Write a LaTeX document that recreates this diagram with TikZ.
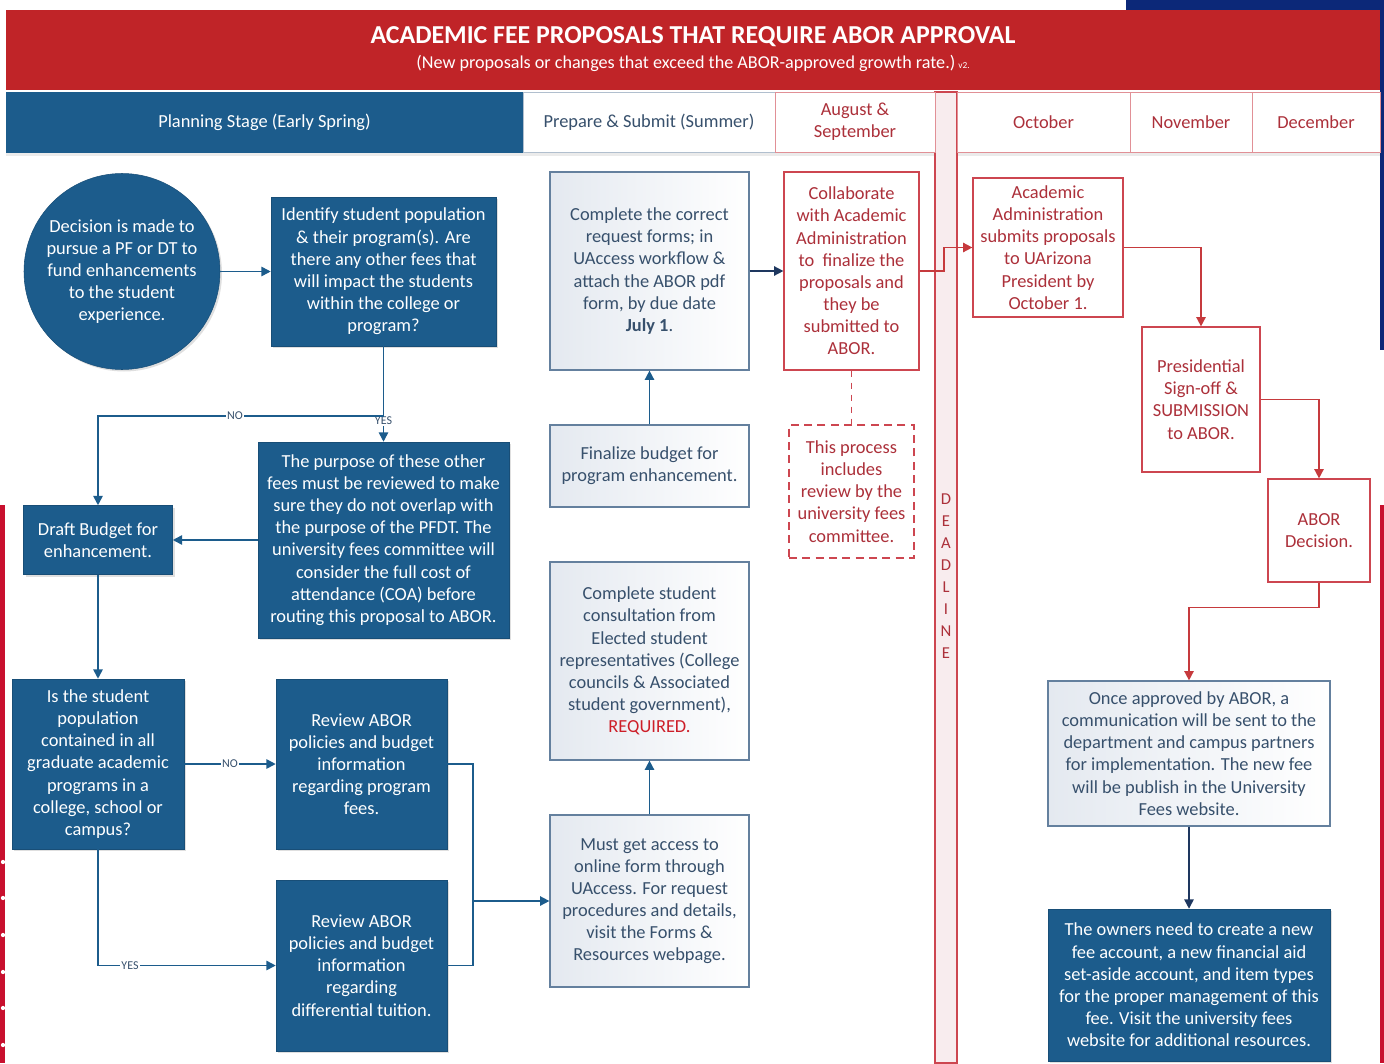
\documentclass[tikz,border=0pt]{standalone}
\usepackage{fontspec}
\setmainfont{Carlito}
\usetikzlibrary{arrows.meta,shadows}

\definecolor{feered}{RGB}{192,36,40}
\definecolor{feeblue}{RGB}{28,92,140}
\definecolor{navyflow}{RGB}{30,55,95}
\definecolor{slateline}{RGB}{100,128,158}
\definecolor{slatetext}{RGB}{55,80,108}
\definecolor{lightfill}{RGB}{228,233,240}
\definecolor{redline}{RGB}{205,70,80}
\definecolor{redtext}{RGB}{172,48,58}
\definecolor{brightred}{RGB}{205,30,40}
\definecolor{deadfill}{RGB}{248,236,238}
\definecolor{edgenavy}{RGB}{12,40,120}
\definecolor{edgered}{RGB}{200,16,46}

\newcommand\procfont{\fontsize{13.8}{16.6}\selectfont}

\tikzset{
  dim/.style 2 args={minimum width=#1*0.75pt, minimum height=#2*0.75pt},
  blueproc/.style={draw=feeblue!85!black, fill=feeblue, text=white, align=center,
    inner sep=0pt, font=\procfont, drop shadow={opacity=0.25,shadow xshift=1.5pt,shadow yshift=-1.5pt}},
  lightproc/.style={draw=slateline, line width=0.9pt, left color=lightfill, right color=white,
    text=slatetext, align=center, inner sep=0pt, font=\procfont},
  redproc/.style={draw=redline, line width=0.9pt, fill=white, text=redtext, align=center,
    inner sep=0pt, font=\procfont},
  notebox/.style={redproc, dashed, dash pattern=on 6pt off 4pt},
  headcell/.style={draw=redline!60, line width=0.6pt, fill=white, text=redtext, align=center,
    inner sep=0pt, font=\procfont},
  flowlabel/.style={fill=white, inner sep=1pt, text=slatetext, font=\fontsize{9}{10}\selectfont},
  blueline/.style={draw=feeblue, line width=1.2pt},
  blueflow/.style={blueline, -{Triangle[length=7pt,width=7pt]}},
  navyarrow/.style={draw=navyflow, line width=1.2pt, -{Triangle[length=7pt,width=7pt]}},
  redflow/.style={draw=feered!90, line width=1.2pt, -{Triangle[length=7pt,width=7pt]}},
  reddash/.style={draw=redline, line width=1.3pt, dash pattern=on 5pt off 4pt}
}

\begin{document}
\begin{tikzpicture}[x=0.75pt, y=-0.75pt]
\useasboundingbox (0,0) rectangle (1384,1063);
\fill[white] (0,0) rectangle (1384,1063);

% bords
\fill[edgenavy] (1126,0) rectangle (1384,10);
\fill[edgenavy] (1380,0) rectangle (1384,350);
\fill[edgered] (1380,505) rectangle (1384,1063);
\fill[edgered] (0,505) rectangle (5,1063);
\foreach \y in {862,898,935,972,1008,1045}
  \fill[white] (3,\y) circle (1.6pt);

% bandeau
\fill[feered] (6,10) rectangle (1380,90);
\node[text=white, font=\fontsize{19.4}{22}\selectfont\bfseries] (title) at (693,37)
  {ACADEMIC FEE PROPOSALS THAT REQUIRE ABOR APPROVAL};
\node[text=white, font=\fontsize{13.6}{15}\selectfont] (subtitle) at (693,63)
  {(New proposals or changes that exceed the ABOR-approved growth rate.)\,{\fontsize{7}{8}\selectfont v2.}};

% en-tetes
\fill[black!8] (6,152) rectangle (1380,156);
\node[draw=redline, line width=0.8pt, fill=deadfill, dim={22}{971}] (deadcol) at (946,577.5) {};
\node[text=redtext, align=center, font=\fontsize{12.5}{16.5}\selectfont] (deadtxt) at (946,576.5)
  {D\\E\\A\\D\\L\\I\\N\\E};
\node[headcell, draw=feeblue, fill=feeblue, text=white, dim={517}{60}] (hplan) at (264.5,122) {Planning Stage (Early Spring)};
\node[headcell, draw=slateline!50, text=slatetext, dim={252}{60}] (hprep) at (649,122) {Prepare \& Submit (Summer)};
\node[headcell, dim={160}{60}] (haug) at (855,122) {August \&\\September};
\node[headcell, dim={173}{60}] (hoct) at (1043.5,122) {October};
\node[headcell, dim={122}{60}] (hnov) at (1191,122) {November};
\node[headcell, dim={128}{60}] (hdec) at (1316,122) {December};

% planification
\node[blueproc, circle, minimum size=196*0.75pt] (decis) at (122,271.5)
  {Decision is made to\\pursue a PF or DT to\\fund enhancements\\to the student\\experience.};
\node[blueproc, dim={225}{149}] (ident) at (383.5,271.5)
  {Identify student population\\\& their program(s). Are\\there any other fees that\\will impact the students\\within the college or\\program?};
\node[blueproc, dim={251}{196}] (purp) at (383.5,540)
  {The purpose of these other\\fees must be reviewed to make\\sure they do not overlap with\\the purpose of the PFDT. The\\university fees committee will\\consider the full cost of\\attendance (COA) before\\routing this proposal to ABOR.};
\node[blueproc, dim={149}{69}] (draft) at (98,540)
  {Draft Budget for\\enhancement.};
\node[blueproc, dim={172}{170}] (quest) at (98,764)
  {Is the student\\population\\contained in all\\graduate academic\\programs in a\\college, school or\\campus?};
\node[blueproc, dim={171}{170}] (revpf) at (361.5,764)
  {Review ABOR\\policies and budget\\information\\regarding program\\fees.};
\node[blueproc, dim={171}{171}] (revdt) at (361.5,965.5)
  {Review ABOR\\policies and budget\\information\\regarding\\differential tuition.};

% preparation
\node[lightproc, dim={199}{198}] (compl) at (649.5,271)
  {Complete the correct\\request forms; in\\UAccess workflow \&\\attach the ABOR pdf\\form, by due date\\\textbf{July 1}.};
\node[lightproc, dim={199}{82}] (final) at (649.5,466)
  {Finalize budget for\\program enhancement.};
\node[lightproc, dim={199}{198}] (consult) at (649.5,661)
  {Complete student\\consultation from\\Elected student\\representatives (College\\councils \& Associated\\student government),\\\textcolor{brightred}{REQUIRED.}};
\node[lightproc, dim={199}{172}] (access) at (649.5,901)
  {Must get access to\\online form through\\UAccess. For request\\procedures and details,\\visit the Forms \&\\Resources webpage.};

% aout - decembre
\node[redproc, dim={135}{198}] (collab) at (851.5,271)
  {Collaborate\\with Academic\\Administration\\to\ \ finalize the\\proposals and\\they be\\submitted to\\ABOR.};
\node[notebox, dim={125}{133}] (note) at (851.5,491.5)
  {This process\\includes\\review by the\\university fees\\committee.};
\node[redproc, dim={150}{139}] (acad) at (1048,247.5)
  {Academic\\Administration\\submits proposals\\to UArizona\\President by\\October 1.};
\node[redproc, dim={118}{145}] (pres) at (1201,399.5)
  {Presidential\\Sign-off \&\\SUBMISSION\\to ABOR.};
\node[redproc, dim={102}{103}] (decab) at (1319,530.5)
  {ABOR\\Decision.};
\node[lightproc, dim={282}{145}] (once) at (1189,753.5)
  {Once approved by ABOR, a\\communication will be sent to the\\department and campus partners\\for implementation. The new fee\\will be publish in the University\\Fees website.};
\node[blueproc, dim={282}{152}] (owners) at (1189,985)
  {The owners need to create a new\\fee account, a new financial aid\\set-aside account, and item types\\for the proper management of this\\fee. Visit the university fees\\website for additional resources.};

% liaisons
\draw[blueflow] (decis) -- (ident);
\draw[blueflow] (ident.south) -- node[pos=0.78, flowlabel] {YES} (purp.north);
\coordinate (split) at (383.5,416);
\draw[blueflow] (split) -| node[pos=0.26, flowlabel] {NO} (draft.north);
\draw[blueflow] (purp.west) -- (draft.east);
\draw[blueflow] (draft.south) -- (quest.north);
\draw[blueflow] (quest.east) -- node[flowlabel] {NO} (revpf.west);
\draw[blueflow] (quest.south) |- node[pos=0.59, flowlabel] {YES} (revdt.west);
\coordinate (merge) at (473,901);
\draw[blueline] (revpf.east) -| (merge);
\draw[blueline] (revdt.east) -| (merge);
\draw[blueflow] (merge) -- (access.west);
\draw[blueflow] (access.north) -- (consult.south);
\draw[blueflow] (final.north) -- (compl.south);
\draw[navyarrow] (compl.east) -- (collab.west);
\draw[reddash] (collab.south) -- (note.north);
\draw[redflow] (collab.east) -- (944,271) |- (acad.west);
\draw[redflow] (acad.east) -| (pres.north);
\draw[redflow] (pres.east) -| (decab.north);
\draw[redflow] (decab.south) -- ++(0,25) -| (once.north);
\draw[navyarrow] (once.south) -- (owners.north);
\end{tikzpicture}
\end{document}
